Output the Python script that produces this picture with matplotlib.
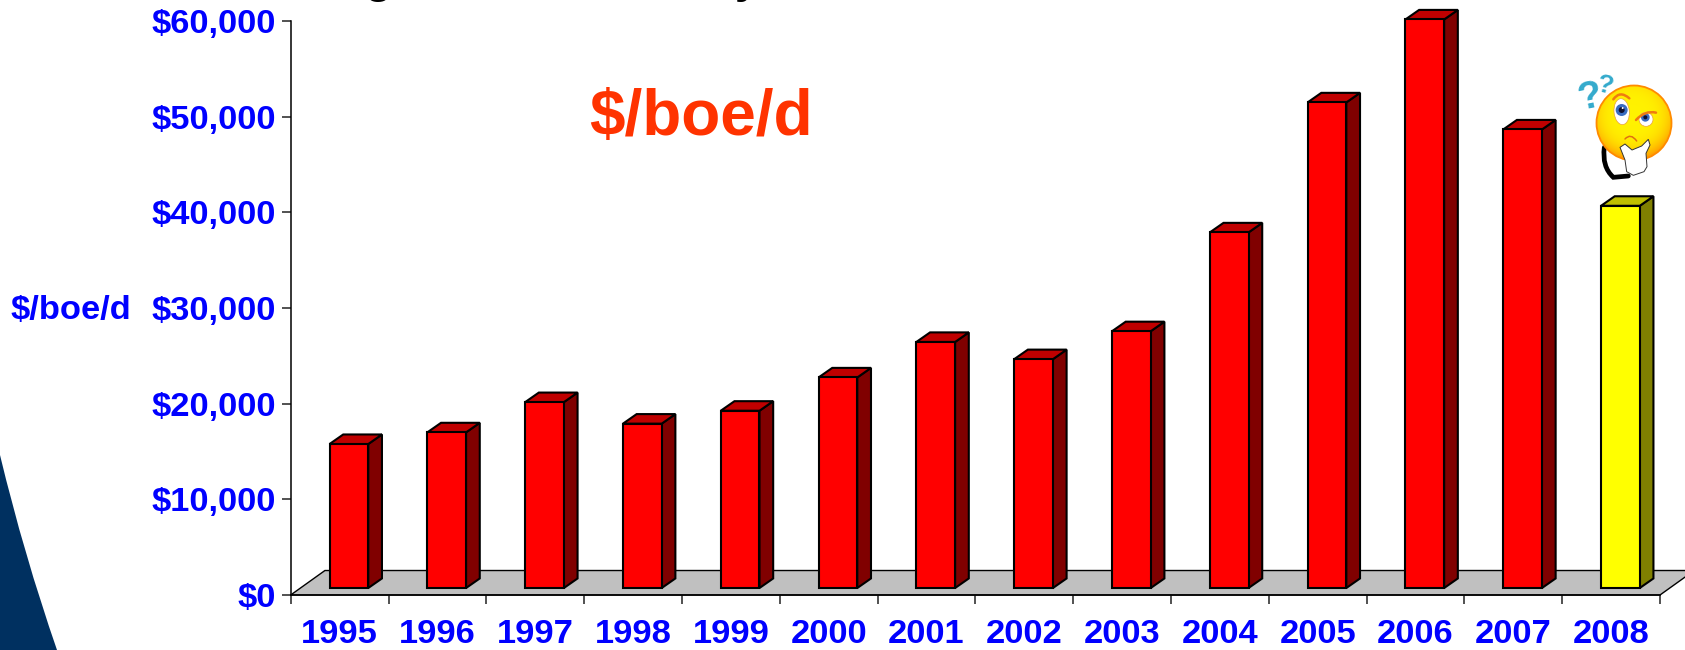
import numpy as np
import matplotlib
matplotlib.use("Agg")
import matplotlib.pyplot as plt
from matplotlib.patches import Polygon, Circle, Ellipse, PathPatch
from matplotlib.path import Path

plt.rcParams['font.family'] = ['Liberation Sans', 'DejaVu Sans']

years = ['1995', '1996', '1997', '1998', '1999', '2000', '2001',
         '2002', '2003', '2004', '2005', '2006', '2007', '2008']
values = [15050, 16270, 19430, 17180, 18530, 22010, 25720,
          23920, 26840, 37170, 50760, 59430, 47930, 39950]
yticks = [0, 10000, 20000, 30000, 40000, 50000, 60000]

W, H = 1685, 650
BLUE = '#0000FF'

fig = plt.figure(figsize=(W / 100, H / 100), dpi=100, facecolor='white')
# axis box in pixels: x 290.7-1660, y 21-595
ax = fig.add_axes([290.7 / W, 1 - 595 / H, (1660 - 290.7) / W, (595 - 21) / H])
ax.set_xlim(0, 14)
ax.set_ylim(0, 60000)
ax.patch.set_alpha(0)
for s in ['top', 'right']:
    ax.spines[s].set_visible(False)
ax.spines['left'].set_linewidth(1.1)
ax.spines['bottom'].set_linewidth(1.1)

# floor of the 3d chart
floor_dx, floor_dy = 0.35, 2560
ax.add_patch(Polygon([(0, 0), (floor_dx, floor_dy), (14 + floor_dx, floor_dy), (14, 0)],
                     closed=True, facecolor='#C0C0C0', edgecolor='black', lw=1.0,
                     clip_on=False, zorder=1))

bar_left, bar_w = 0.397, 0.396
base = 730
dx, dy = 0.14, 1000
for i, v in enumerate(values):
    last = i == len(values) - 1
    front = '#FFFF00' if last else '#FF0000'
    top = '#BFBF00' if last else '#C00000'
    side = '#808000' if last else '#800000'
    x0 = i + bar_left
    x1 = x0 + bar_w
    y0 = base
    y1 = base + v
    ax.add_patch(Polygon([(x1, y0), (x1 + dx, y0 + dy), (x1 + dx, y1 + dy), (x1, y1)],
                         facecolor=side, edgecolor='black', lw=1.5, clip_on=False, zorder=3))
    ax.add_patch(Polygon([(x0, y1), (x0 + dx, y1 + dy), (x1 + dx, y1 + dy), (x1, y1)],
                         facecolor=top, edgecolor='black', lw=1.5, clip_on=False, zorder=3))
    ax.bar(x0, v, width=bar_w, bottom=base, align='edge', color=front,
           edgecolor='black', lw=1.5, zorder=4, clip_on=False)

ax.set_yticks(yticks)
ax.set_yticklabels(['${:,}'.format(t) for t in yticks], color=BLUE,
                   fontsize=24.8, fontweight='bold')
ax.set_xticks(np.arange(15))
ax.set_xticklabels([])
ax.set_xticks(np.arange(14) + 0.5, minor=True)
ax.set_xticklabels(years, minor=True, color=BLUE, fontsize=24.8, fontweight='bold')
ax.tick_params(axis='x', which='major', length=6.5, width=1.1, color='#222222')
ax.tick_params(axis='x', which='minor', length=0, pad=17.5)
ax.tick_params(axis='y', length=6.5, width=1.1, pad=4.2, color='#222222')

# overlay in pixel coords for the slide decorations
deco = fig.add_axes([0, 0, 1, 1], zorder=5)
deco.set_xlim(0, W)
deco.set_ylim(H, 0)
deco.axis('off')

swoosh = Path([(0, 455), (24, 555), (57, 650), (0, 650), (0, 455)],
              [Path.MOVETO, Path.CURVE3, Path.CURVE3, Path.LINETO, Path.CLOSEPOLY])
deco.add_patch(PathPatch(swoosh, facecolor='#003060', edgecolor='none'))

deco.text(131, 311, '$/boe/d', color=BLUE, fontsize=24.8, fontweight='bold',
          ha='right', va='center')
deco.text(589, 135, '$/boe/d', color='#FF3300', fontsize=46, fontweight='bold',
          ha='left', va='baseline')

# descenders of the cut off slide title
deco.text(378, -7, 'g', color='black', fontsize=32, fontweight='bold', ha='center', va='baseline')
deco.text(747, -7, 'y', color='black', fontsize=32, fontweight='bold', ha='center', va='baseline')


# thinking smiley, z() takes coordinates from a crop of the picture
def z(px, py):
    return 1570 + px / 3, 70 + py / 3


def curve(points, **kw):
    pts = [z(*p) for p in points]
    codes = [Path.MOVETO] + [Path.CURVE3] * (len(pts) - 1)
    deco.add_patch(PathPatch(Path(pts, codes), facecolor='none', **kw))


curve([(103, 232), (95, 290), (130, 322), (175, 318), (175, 318)],
      edgecolor='black', lw=3.4, capstyle='round', zorder=2)

cx, cy = 1634, 123
r = 37.5
yy, xx = np.mgrid[-1:1:200j, -1:1:200j]
dist = np.sqrt((xx + 0.05) ** 2 + (yy + 0.2) ** 2)
grad = np.clip(dist / 1.2, 0, 1)
rgba = np.zeros((200, 200, 4))
rgba[..., 0] = 1.0
rgba[..., 1] = 0.95 - 0.35 * grad ** 4
rgba[..., 2] = 0.0
rgba[..., 3] = 1.0
img = deco.imshow(rgba, extent=(cx - r, cx + r, cy + r, cy - r), zorder=3, aspect='auto')
clip = Circle((cx, cy), r, transform=deco.transData, facecolor='none')
img.set_clip_path(clip)
deco.set_xlim(0, W)
deco.set_ylim(H, 0)
deco.add_patch(Circle((cx, cy), r, facecolor='none', edgecolor='#FF8A00', lw=1.3, zorder=4))

# eyes
deco.add_patch(Ellipse(z(155, 125), 46 / 3, 78 / 3, angle=-5, facecolor='white',
                       edgecolor='#E8A040', lw=0.5, zorder=5))
deco.add_patch(Circle(z(155, 120), 18 / 3, facecolor='#3A6CC0', zorder=6))
deco.add_patch(Circle(z(155, 120), 9 / 3, facecolor='#101030', zorder=7))
deco.add_patch(Circle(z(158, 114), 3 / 3, facecolor='white', zorder=8))
deco.add_patch(Ellipse(z(228, 148), 42 / 3, 42 / 3, facecolor='white',
                       edgecolor='#E8A040', lw=0.5, zorder=5))
deco.add_patch(Circle(z(226, 142), 13 / 3, facecolor='#3A6CC0', zorder=6))
deco.add_patch(Circle(z(226, 142), 6 / 3, facecolor='#101030', zorder=7))
# brows and mouth
curve([(130, 88), (150, 60), (178, 85)], edgecolor='#F07A10', lw=1.8, zorder=6, capstyle='round')
curve([(198, 150), (225, 120), (258, 128)], edgecolor='#F07A10', lw=1.8, zorder=6, capstyle='round')
curve([(165, 207), (182, 188), (200, 213)], edgecolor='#E07010', lw=1.1, zorder=6, capstyle='round')

# hand
hand = [(150, 232), (165, 222), (186, 240), (215, 228), (235, 208), (240, 225), (228, 250),
        (231, 290), (222, 305), (190, 316), (170, 305), (165, 270)]
deco.add_patch(Polygon([z(*p) for p in hand], closed=True, facecolor='white',
                       edgecolor='#333333', lw=0.7, zorder=7))

qx, qy = z(60, 82)
deco.text(qx, qy, '?', color='#33AACC', fontsize=28, fontweight='bold', rotation=12,
          ha='center', va='center', zorder=6)
qx, qy = z(104, 47)
deco.text(qx, qy, '?', color='#33AACC', fontsize=19, fontweight='bold', rotation=-12,
          ha='center', va='center', zorder=6)

fig.savefig('out.png', dpi=100, facecolor='white')
